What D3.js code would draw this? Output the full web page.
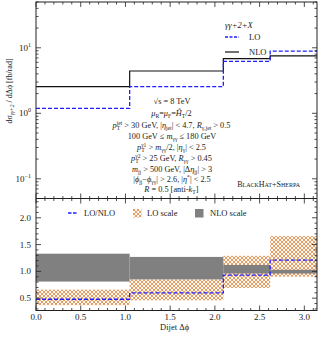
<!DOCTYPE html>
<html><head><meta charset="utf-8">
<script src="https://cdn.jsdelivr.net/npm/d3@7"></script>
<style>
body{margin:0;background:#fff;}
svg text{font-family:"Liberation Serif","DejaVu Serif",serif;fill:#222;}
</style></head>
<body><svg id="c" width="326" height="345"></svg>
<script>
// ---- data ----
const binEdges = [0, Math.PI/3, 2*Math.PI/3, 5*Math.PI/6, Math.PI];
const nloValues = [2.56, 4.42, 6.84, 7.5];
const loValues = [1.19, 2.56, 6.2, 8.9];
const ratioValues = [0.48, 0.60, 0.93, 1.21];
const loScaleLow = [0.37, 0.46, 0.69, 0.90];
const loScaleHigh = [0.66, 0.85, 1.29, 1.66];
const nloScaleLow = [0.81, 0.85, 0.96, 0.96];
const nloScaleHigh = [1.33, 1.27, 1.12, 1.03];
const xTicks = [0, 0.5, 1.0, 1.5, 2.0, 2.5, 3.0];
const ratioTicks = [0.5, 1.0, 1.5, 2.0];
const logTicks = [0.1, 1, 10];
const logTickLabels = ["−1", "0", "1"];
// text segments: [text, kind]  kind: "" normal, "i" italic, "_" subscript, "^" superscript
const cutLines = [
  [["√",""],["s",""],[" = 8 TeV",""]],
  [["μ","i"],["R","_"],["=","" ],["μ","i"],["F","_"],["=",""],["Ĥ","i"],["T","_"],["/2",""]],
  [["p","i"],["T","_"],["jet","^"],[" > 30 GeV, |",""],["η","i"],["jet","_"],["| < 4.7, ",""],["R","i"],["γ,jet","_"],[" > 0.5",""]],
  [["100 GeV ≤ ",""],["m","i"],["γγ","_"],[" ≤ 180 GeV",""]],
  [["p","i"],["T","_"],["γ1","^"],[" > ",""],["m","i"],["γγ","_"],["/2, |",""],["η","i"],["γ","_"],["| < 2.5",""]],
  [["p","i"],["T","_"],["γ2","^"],[" > 25 GeV, ",""],["R","i"],["γγ","_"],[" > 0.45",""]],
  [["m","i"],["jj","_"],[" > 500 GeV, |Δ",""],["η","i"],["jj","_"],["| > 3",""]],
  [["|",""],["ϕ","i"],["jj","_"],["−",""],["ϕ","i"],["γγ","_"],["| > 2.6, |",""],["η","i"],["*","^"],["| < 2.5",""]],
  [["R","i"],[" = 0.5 [anti-",""],["k","i"],["T","_"],["]",""]]
];

const svg = d3.select("#c");
const L = 36, R = 317, T1 = 2, B1 = 198.5, T2 = 198.5, B2 = 310.5;
const x = d3.scaleLinear().domain([0, Math.PI]).range([L, R]);
const y1 = d3.scaleLog().domain([0.05, 50]).range([B1, T1]);
const y2 = d3.scaleLinear().domain([0.27, 2.36]).range([B2, T2]);

// pattern
const defs = svg.append("defs");
const pat = defs.append("pattern").attr("id","hatch").attr("patternUnits","userSpaceOnUse")
  .attr("width",4).attr("height",4);
pat.append("rect").attr("width",4).attr("height",4).attr("fill","#fff8f0");
pat.append("path").attr("d","M0,0 L4,4 M4,0 L0,4").attr("stroke","#dc8e50").attr("stroke-width",0.85);
defs.append("clipPath").attr("id","clip1").append("rect").attr("x",L).attr("y",T1).attr("width",R-L).attr("height",B1-T1);
defs.append("clipPath").attr("id","clip2").append("rect").attr("x",L).attr("y",T2).attr("width",R-L).attr("height",B2-T2);

function stepData(vals){ const d = vals.map((v,i)=>[binEdges[i], v]); d.push([binEdges[binEdges.length-1], vals[vals.length-1]]); return d; }

// ---- top panel ----
const g1 = svg.append("g").attr("clip-path","url(#clip1)");
const line1 = d3.line().x(d=>x(d[0])).y(d=>y1(d[1])).curve(d3.curveStepAfter);
g1.append("path").attr("d", line1(stepData(nloValues))).attr("fill","none").attr("stroke","#111").attr("stroke-width",1.2);
g1.append("path").attr("d", line1(stepData(loValues))).attr("fill","none").attr("stroke","#1f1fff").attr("stroke-width",1.3).attr("stroke-dasharray","4,2");

// ---- bottom panel ----
const g2 = svg.append("g").attr("clip-path","url(#clip2)");
binEdges.slice(0,-1).forEach((e,i)=>{
  g2.append("rect").attr("x",x(e)).attr("width",x(binEdges[i+1])-x(e))
    .attr("y",y2(loScaleHigh[i])).attr("height",y2(loScaleLow[i])-y2(loScaleHigh[i])).attr("fill","url(#hatch)");
});
binEdges.slice(0,-1).forEach((e,i)=>{
  g2.append("rect").attr("x",x(e)).attr("width",x(binEdges[i+1])-x(e))
    .attr("y",y2(nloScaleHigh[i])).attr("height",y2(nloScaleLow[i])-y2(nloScaleHigh[i])).attr("fill","#808080");
});
const line2 = d3.line().x(d=>x(d[0])).y(d=>y2(d[1])).curve(d3.curveStepAfter);
g2.append("path").attr("d", line2(stepData(ratioValues))).attr("fill","none").attr("stroke","#1f1fff").attr("stroke-width",1.3).attr("stroke-dasharray","4,2");

// ---- axes / ticks ----
const frame = svg.append("g").attr("stroke","#222").attr("stroke-width",1).attr("fill","none");
frame.append("rect").attr("x",L).attr("y",T1).attr("width",R-L).attr("height",B2-T1);
frame.append("line").attr("x1",L).attr("x2",R).attr("y1",B1).attr("y2",B1);

const tk = svg.append("g").attr("stroke","#222").attr("stroke-width",0.8);
const xMinor = d3.range(0, 3.15, 0.1);
function xt(v, y0, dir, len){ tk.append("line").attr("x1",x(v)).attr("x2",x(v)).attr("y1",y0).attr("y2",y0+dir*len); }
xMinor.forEach(v=>{
  const maj = xTicks.some(t=>Math.abs(t-v)<1e-6);
  const len = maj?5:2.5;
  xt(v, T1, 1, len); xt(v, B1, -1, len); xt(v, T2, 1, len); xt(v, B2, -1, len);
});
function yt(yy, len){ tk.append("line").attr("x1",L).attr("x2",L+len).attr("y1",yy).attr("y2",yy);
  tk.append("line").attr("x1",R).attr("x2",R-len).attr("y1",yy).attr("y2",yy); }
[0.01,0.1,1,10].forEach(dec=>{
  for(let k=1;k<10;k++){ const v=dec*k; if(v<0.05||v>50) continue; yt(y1(v), k===1?5:2.5); }
});
d3.range(0.3, 2.36, 0.1).forEach(v=>{
  const maj = ratioTicks.some(t=>Math.abs(t-v)<1e-6);
  yt(y2(v), maj?5:2.5);
});

// tick labels
const fs = 9;
xTicks.forEach(v=>{
  svg.append("text").attr("x",x(v)).attr("y",320).attr("text-anchor","middle").attr("font-size",fs).text(v.toFixed(1));
});
ratioTicks.forEach(v=>{
  svg.append("text").attr("x",31).attr("y",y2(v)+3).attr("text-anchor","end").attr("font-size",fs).text(v.toFixed(1));
});
logTicks.forEach((v,i)=>{
  const t = svg.append("text").attr("x",31).attr("y",y1(v)+3).attr("text-anchor","end").attr("font-size",fs);
  t.append("tspan").text("10");
  t.append("tspan").attr("dy",-4).attr("font-size",6).text(logTickLabels[i]);
});

// axis titles
svg.append("text").attr("x",x(1.55)).attr("y",330).attr("text-anchor","middle").attr("font-size",8.5).text("Dijet Δϕ");
const yl = svg.append("text").attr("transform","translate(12,91) rotate(-90)").attr("text-anchor","middle").attr("font-size",8);
yl.append("tspan").text("dσ");
yl.append("tspan").attr("font-size",5.5).attr("font-style","italic").attr("dy",2).text("γγ+2");
yl.append("tspan").attr("dy",-2).text(" / dΔϕ  [fb/rad]");

// rich text
function rich(g, segs, cx, by, size){
  const t = g.append("text").attr("x",0).attr("y",by).attr("font-size",size);
  let shift = 0, prevSubW = 0, prevKind = "";
  segs.forEach(([str,k])=>{
    const target = k==="_"?2.2:(k==="^"?-3.3:0);
    const ts = t.append("tspan").attr("dy", target-shift).text(str);
    shift = target;
    if(k==="_"||k==="^") ts.attr("font-size", size*0.68);
    if(k==="i") ts.attr("font-style","italic");
    if(k==="^" && prevKind==="_") ts.attr("dx", -prevSubW);
    if(k==="_") prevSubW = ts.node().getComputedTextLength();
    prevKind = k;
  });
  const w = t.node().getBBox().width;
  t.attr("x", cx - w/2);
}
const cutG = svg.append("g");
const baselines = [104,116,128,139,150,161,172,182,192];
cutLines.forEach((segs,i)=>rich(cutG, segs, 172, baselines[i], 8.3));
svg.append("text").attr("x",300).attr("y",187).attr("text-anchor","end").attr("font-size",8).attr("font-variant","small-caps").text("BlackHat+Sherpa");

// top legend
svg.append("text").attr("x",225).attr("y",28).attr("font-size",8.5).attr("font-style","italic").text("γγ+2+X");
svg.append("line").attr("x1",225).attr("x2",239).attr("y1",37).attr("y2",37).attr("stroke","#1f1fff").attr("stroke-width",1.3).attr("stroke-dasharray","3,1.5");
svg.append("text").attr("x",249).attr("y",40).attr("font-size",8.5).text("LO");
svg.append("line").attr("x1",225).attr("x2",239).attr("y1",52).attr("y2",52).attr("stroke","#111").attr("stroke-width",1.2);
svg.append("text").attr("x",249).attr("y",55).attr("font-size",8.5).text("NLO");

// bottom legend
svg.append("line").attr("x1",68).attr("x2",78).attr("y1",213).attr("y2",213).attr("stroke","#1f1fff").attr("stroke-width",1.3).attr("stroke-dasharray","3.5,1.5");
svg.append("text").attr("x",84).attr("y",216).attr("font-size",8.5).text("LO/NLO");
svg.append("rect").attr("x",133).attr("y",209).attr("width",8.5).attr("height",8.5).attr("fill","url(#hatch)");
svg.append("text").attr("x",147).attr("y",216).attr("font-size",8.5).text("LO scale");
svg.append("rect").attr("x",195).attr("y",209).attr("width",8.5).attr("height",8.5).attr("fill","#808080");
svg.append("text").attr("x",210).attr("y",216).attr("font-size",8.5).text("NLO scale");
</script></body></html>
